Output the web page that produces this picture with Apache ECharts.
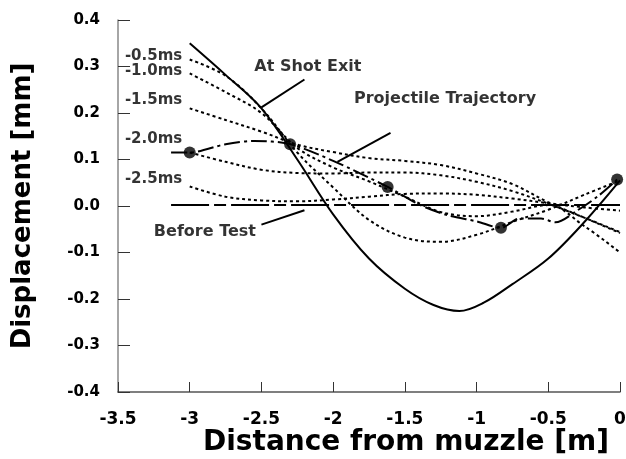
<!DOCTYPE html>
<html><head><meta charset="utf-8">
<script src="https://cdn.jsdelivr.net/npm/echarts@6/dist/echarts.min.js"></script>
<style>html,body{margin:0;padding:0;background:#fff}#c{width:626px;height:459px}</style>
</head><body><div id="c"></div>
<script>
// ---- data (mm vs m) ----
const xs = [-3, -2.75, -2.5, -2.25, -2, -1.75, -1.5, -1.25, -1, -0.75, -0.5, -0.25, 0];
const shotExitX = [-3, -2.75, -2.5, -2.25, -2, -1.75, -1.5, -1.3, -1.12, -0.95, -0.75, -0.5, -0.25, 0];
const atShotExit = [0.35, 0.282, 0.21, 0.1, -0.018, -0.113, -0.178, -0.213, -0.226, -0.208, -0.168, -0.113, -0.035, 0.055];
const ms05 = [0.315, 0.28, 0.21, 0.115, 0.04, -0.03, -0.068, -0.077, -0.062, -0.034, -0.008, 0.024, 0.055];
const ms10 = [0.285, 0.245, 0.2, 0.125, 0.083, 0.053, 0.02, -0.013, -0.022, -0.012, 0.002, -0.043, -0.1];
const ms15 = [0.21, 0.185, 0.16, 0.132, 0.116, 0.103, 0.097, 0.088, 0.07, 0.047, 0.008, -0.025, -0.058];
const ms20 = [0.115, 0.095, 0.078, 0.071, 0.07, 0.072, 0.072, 0.066, 0.052, 0.032, 0.005, -0.025, -0.056];
const ms25 = [0.042, 0.02, 0.012, 0.01, 0.014, 0.02, 0.026, 0.027, 0.024, 0.016, 0.006, -0.003, -0.01];
const beforeTestX = [-3.13, 0];
const beforeTestY = [0.002, 0.002];
const trajX = [-3.13, -3, -2.75, -2.55, -2.3, -2.0, -1.62, -1.4, -1.2, -1.0, -0.83, -0.7, -0.55, -0.45, -0.3, -0.15, -0.02];
const trajY = [0.115, 0.115, 0.133, 0.14, 0.133, 0.097, 0.041, 0.003, -0.02, -0.033, -0.047, -0.027, -0.027, -0.035, -0.01, 0.022, 0.057];
const dotX = [-3, -2.3, -1.62, -0.83, -0.02];
const dotY = [0.115, 0.133, 0.041, -0.047, 0.057];
const yTickLabels = ['-0.4','-0.3','-0.2','-0.1','0.0','0.1','0.2','0.3','0.4'];
const xTickLabels = ['-3.5','-3','-2.5','-2','-1.5','-1','-0.5','0'];
const msLabels = ['-0.5ms','-1.0ms','-1.5ms','-2.0ms','-2.5ms'];
const msLabelY = [0.322, 0.29, 0.228, 0.144, 0.058];
const msLabelX = -3.452;
const notes = [
  {text:'At Shot Exit', x:-2.176, y:0.3, from:[-2.2,0.272], to:[-2.5,0.212]},
  {text:'Projectile Trajectory', x:-1.22, y:0.231, from:[-1.6,0.157], to:[-1.97,0.095]},
  {text:'Before Test', x:-2.894, y:-0.056, from:[-2.5,-0.04], to:[-2.2,-0.009]}
];

const zip = (a, b) => a.map((v, i) => [v, b[i]]);
const FONT = 'DejaVu Sans';
const dotted = [3, 3];

function curve(name, xv, ys, dash) {
  return {name, type:'line', data: zip(xv, ys), smooth: 0.35, symbol:'none',
    lineStyle:{color:'#000', width:2, type: dash}, z: 2};
}

const series = [
  curve('At Shot Exit', shotExitX, atShotExit, 'solid'),
  curve('-0.5ms', xs, ms05, dotted),
  curve('-1.0ms', xs, ms10, dotted),
  curve('-1.5ms', xs, ms15, dotted),
  curve('-2.0ms', xs, ms20, dotted),
  curve('-2.5ms', xs, ms25, dotted),
  {name:'Before Test', type:'line', data: zip(beforeTestX, beforeTestY), symbol:'none',
    lineStyle:{color:'#000', width:2, type:[38,5,12,5]}},
  {name:'Projectile Trajectory', type:'line', data: zip(trajX, trajY), smooth:0.3, symbol:'none',
    lineStyle:{color:'#000', width:2, type:[16,4,3,4]}},
  {name:'points', type:'scatter', data: zip(dotX, dotY), symbol:'circle', symbolSize:12,
    itemStyle:{color:'#000'}, clip:false, z:5},
  {name:'msLabels', type:'scatter', symbolSize:0, silent:true, clip:false,
    data: msLabels.map((t, i) => ({value:[msLabelX, msLabelY[i]], name:t})),
    label:{show:true, position:[0,0], align:'left', verticalAlign:'middle',
      formatter: p => p.name, fontFamily:FONT, fontWeight:'bold', fontSize:15, color:'#000'}},
  {name:'notes', type:'scatter', symbolSize:0, silent:true, clip:false,
    data: notes.map(n => ({value:[n.x, n.y], name:n.text})),
    label:{show:true, position:[0,0], align:'center', verticalAlign:'middle',
      formatter: p => p.name, fontFamily:FONT, fontWeight:'bold', fontSize:16, color:'#000'}}
];
notes.forEach(n => series.push({type:'line', data:[n.from, n.to], symbol:'none',
  lineStyle:{color:'#000', width:2}, silent:true}));

const chart = echarts.init(document.getElementById('c'), null, {renderer:'canvas'});
chart.setOption({
  animation:false,
  backgroundColor:'#fff',
  grid:{left:118, right:6, top:20, bottom:67, containLabel:false, outerBoundsMode:'none'},
  xAxis:{type:'value', min:-3.5, max:0, interval:0.5,
    name:'Distance from muzzle [m]', nameLocation:'middle', nameGap:37, nameMoveOverlap:false,
    nameTextStyle:{fontFamily:FONT, fontWeight:'bold', fontSize:28, color:'#000', padding:[0,0,0,74]},
    axisLine:{show:true, onZero:false, lineStyle:{color:'#555', width:1.5}},
    axisTick:{show:true, inside:true, length:10, lineStyle:{color:'#333', width:1}},
    axisLabel:{margin:19, fontFamily:FONT, fontWeight:'bold', fontSize:17, color:'#000',
      formatter: v => xTickLabels[Math.round((v + 3.5) / 0.5)]},
    splitLine:{show:false}},
  yAxis:{type:'value', min:-0.4, max:0.4, interval:0.1,
    name:'Displacement [mm]', nameLocation:'middle', nameGap:82, nameRotate:90, nameMoveOverlap:false,
    nameTextStyle:{fontFamily:FONT, fontWeight:'bold', fontSize:26, color:'#000'},
    axisLine:{show:true, onZero:false, lineStyle:{color:'#888', width:1.5}},
    axisTick:{show:true, inside:true, length:12, lineStyle:{color:'#333', width:1}},
    axisLabel:{margin:18, fontFamily:FONT, fontWeight:'bold', fontSize:15, color:'#000',
      formatter: v => yTickLabels[Math.round((v + 0.4) / 0.1)]},
    splitLine:{show:false}},
  series
});
</script></body></html>
